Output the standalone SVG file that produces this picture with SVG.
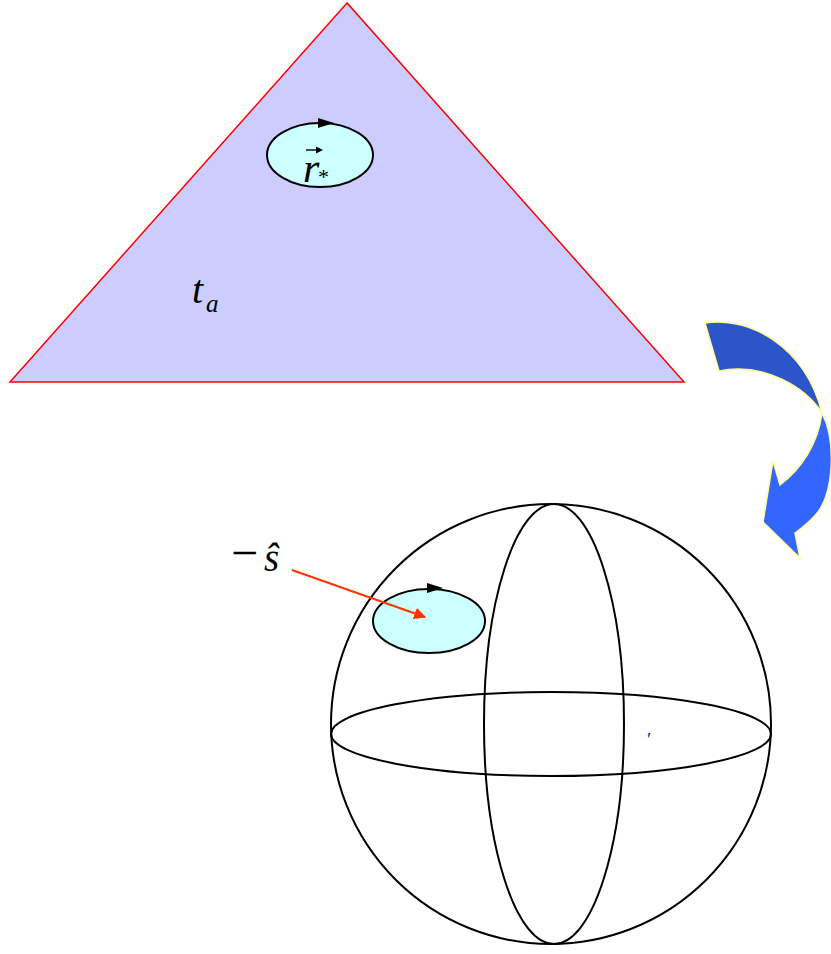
<svg xmlns="http://www.w3.org/2000/svg" width="831" height="954" viewBox="0 0 831 954">
<style>
.loop{fill:#CCFFFF;stroke:#000;stroke-width:2}
.sph{fill:none;stroke:#000;stroke-width:2}
.m{font-family:"Liberation Serif","Times New Roman",serif;font-style:italic;fill:#000}
</style>
<defs>
<marker id="ah" viewBox="0 0 10 10" refX="9" refY="5" markerWidth="6" markerHeight="6" orient="auto" markerUnits="strokeWidth"><path d="M0,0 L10,5 L0,10 Z" fill="#FF3300"/></marker>
</defs>
<rect width="831" height="954" fill="#fff"/>
<g id="triangle">
<polygon points="347,3 10,382 684,382" fill="#CCCCFF" stroke="#FF0000" stroke-width="1.5"/>
<text class="m" x="192" y="303" font-size="40">t</text>
<text class="m" x="206" y="312" font-size="25">a</text>
</g>
<g id="loop-top">
<ellipse class="loop" cx="320" cy="155" rx="53" ry="32"/>
<path d="M318,118 L334,123 L318,128 Z" fill="#000"/>
<text class="m" x="303" y="182" font-size="42">r</text>
<path d="M306,150 L320,150" stroke="#000" stroke-width="1.4"/>
<path d="M316,146.5 L323,150 L316,153.5 Z" fill="#000"/>
<text x="318" y="184" font-size="22" font-family="Liberation Serif,serif">*</text>
</g>
<g id="curved-arrow">
<path d="M705,323 C748,316 805,345 822,413 C806,388 765,362 719,371 Z" fill="#2B55C9" stroke="#FFFF99" stroke-width="1.5"/>
<path d="M822,413 C836,440 834,490 818,512 C810,522 802,528 795,533 L800,558 L763,522 L773,461 L780,485 C800,470 818,445 822,413 Z" fill="#3366FF" stroke="#FFFF99" stroke-width="1.5"/>
</g>
<g id="sphere">
<circle class="sph" cx="551" cy="724" r="220"/>
<ellipse class="sph" cx="554" cy="724" rx="70" ry="220"/>
<ellipse class="sph" cx="551" cy="734" rx="220" ry="42"/>
<text x="646" y="746" font-size="18" fill="#0000CC" font-family="Liberation Serif,serif" font-style="italic">′</text>
</g>
<g id="loop-sphere">
<ellipse class="loop" cx="429" cy="621" rx="56" ry="32"/>
<path d="M427,583 L443,588 L427,593 Z" fill="#000"/>
</g>
<g id="label-s">
<text x="231" y="569" font-size="48" font-family="Liberation Serif,serif">−</text>
<text class="m" x="264" y="571" font-size="39">ŝ</text>
</g>
<g id="connectors">
<line x1="292" y1="570" x2="425" y2="617" stroke="#FF3300" stroke-width="2" marker-end="url(#ah)"/>
</g>
</svg>
